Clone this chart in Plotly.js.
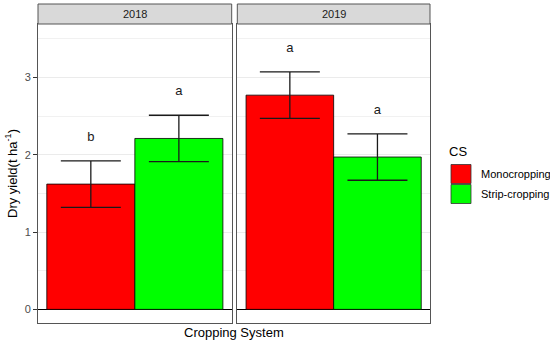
<!DOCTYPE html>
<html>
<head>
<meta charset="utf-8">
<script src="https://cdn.plot.ly/plotly-3.0.1.min.js"></script>
<style>html,body{margin:0;padding:0;background:#fff;}#chart{width:550px;height:343px;}</style>
</head>
<body>
<div id="chart"></div>
<script>
// ---- data ----
const years = ['2018', '2019'];
const systems = ['Monocropping', 'Strip-cropping'];
const colors = ['#FF0000', '#00FF00'];
const yield2018 = [1.62, 2.21];
const yield2019 = [2.77, 1.97];
const se2018 = [0.30, 0.30];
const se2019 = [0.30, 0.30];
const letters2018 = ['b', 'a'];
const letters2019 = ['a', 'a'];
const yTickVals = [0, 1, 2, 3];
const yTickText = ['0', '1', '2', '3'];

const means = [yield2018, yield2019];
const ses = [se2018, se2019];
const letters = [letters2018, letters2019];

// ---- layout helpers (pixel -> paper) ----
const W = 550, H = 343;
const M = {l: 38, r: 120, t: 24, b: 20};
const PW = W - M.l - M.r, PH = H - M.t - M.b;
const px = x => (x - M.l) / PW;
const py = y => (H - M.b - y) / PH;

const FONT = 'Liberation Sans, Arial, sans-serif';
const BORDER = '#555555';
const GRID = '#ebebeb';

const traces = [];
years.forEach((yr, i) => {
  const xa = i === 0 ? 'x' : 'x2';
  const ya = i === 0 ? 'y' : 'y2';
  traces.push({
    type: 'bar', x: systems, y: means[i], xaxis: xa, yaxis: ya, width: 1,
    marker: {color: colors, line: {color: '#000', width: 0.8}},
    error_y: {type: 'data', array: ses[i], visible: true, color: '#1a1a1a', thickness: 1.3, width: 30},
    hoverinfo: 'skip', showlegend: false
  });
  traces.push({
    type: 'scatter', mode: 'text', x: systems,
    y: means[i].map((m, j) => m + ses[i][j] + 0.3),
    text: letters[i], xaxis: xa, yaxis: ya,
    textfont: {family: FONT, size: 13, color: '#1a1a1a'},
    cliponaxis: false, hoverinfo: 'skip', showlegend: false
  });
});

const xCommon = {
  type: 'category', range: [-0.6, 1.6], showticklabels: false, ticks: '',
  showgrid: false, zeroline: false, showline: true, mirror: true,
  linecolor: BORDER, linewidth: 1, fixedrange: true
};
const yCommon = {
  range: [-0.176, 3.69], tickvals: yTickVals, ticktext: yTickText,
  showgrid: true, gridcolor: GRID, gridwidth: 1,
  minor: {dtick: 0.5, tick0: 0, showgrid: true, gridcolor: GRID, gridwidth: 0.7, ticks: ''},
  zeroline: true, zerolinecolor: '#000', zerolinewidth: 1,
  showline: true, mirror: true, linecolor: BORDER, linewidth: 1, fixedrange: true
};

const shapes = [];
const annotations = [];
years.forEach((yr, i) => {
  const xr = i === 0 ? 'x domain' : 'x2 domain';
  shapes.push({type: 'rect', xref: xr, yref: 'paper', x0: 0, x1: 1, y0: 1, y1: py(4),
    fillcolor: '#d9d9d9', line: {color: BORDER, width: 1}, layer: 'above'});
  annotations.push({xref: xr, yref: 'paper', x: 0.5, y: py(14), text: yr, showarrow: false,
    xanchor: 'center', yanchor: 'middle', font: {family: FONT, size: 11, color: '#1a1a1a'}});
});

// x title
annotations.push({xref: 'paper', yref: 'paper', x: px(234), y: py(332), text: 'Cropping System',
  showarrow: false, xanchor: 'center', yanchor: 'middle', font: {family: FONT, size: 13, color: '#000'}});

// legend (built from systems / colors)
annotations.push({xref: 'paper', yref: 'paper', x: px(447), y: py(151), text: 'CS',
  showarrow: false, xanchor: 'left', yanchor: 'middle', font: {family: FONT, size: 13, color: '#000'}});
systems.forEach((s, j) => {
  const top = 164.5 + j * 20;
  shapes.push({type: 'rect', xref: 'paper', yref: 'paper', x0: px(451), x1: px(471),
    y0: py(top + 19), y1: py(top), fillcolor: colors[j], line: {color: '#333', width: 0.8}});
  annotations.push({xref: 'paper', yref: 'paper', x: px(479), y: py(top + 9.5), text: s,
    showarrow: false, xanchor: 'left', yanchor: 'middle', font: {family: FONT, size: 11, color: '#000'}});
});

const layout = {
  width: W, height: H, margin: M,
  paper_bgcolor: '#fff', plot_bgcolor: '#fff', showlegend: false,
  font: {family: FONT},
  xaxis: Object.assign({}, xCommon, {domain: [0, px(231.7)], anchor: 'y'}),
  xaxis2: Object.assign({}, xCommon, {domain: [px(237.3), 1], anchor: 'y2'}),
  yaxis: Object.assign({}, yCommon, {
    anchor: 'x', ticks: 'outside', ticklen: 4, tickcolor: '#333', tickwidth: 1,
    tickfont: {family: FONT, size: 11, color: '#4d4d4d'},
    title: {text: 'Dry yield(t ha<sup>-1</sup>)', font: {family: FONT, size: 13, color: '#000'}, standoff: 4}
  }),
  yaxis2: Object.assign({}, yCommon, {anchor: 'x2', matches: 'y', showticklabels: false, ticks: ''}),
  shapes: shapes,
  annotations: annotations
};

Plotly.newPlot('chart', traces, layout, {displayModeBar: false, staticPlot: true});
</script>
</body>
</html>
